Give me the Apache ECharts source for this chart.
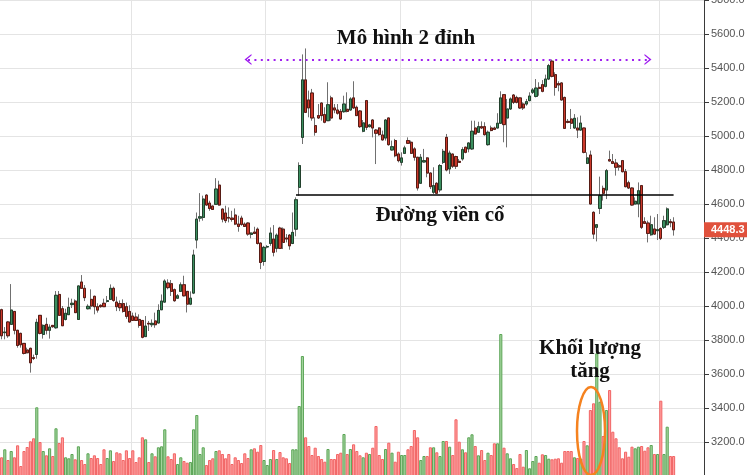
<!DOCTYPE html>
<html><head><meta charset="utf-8">
<script src="https://cdn.jsdelivr.net/npm/echarts@6/dist/echarts.min.js"></script>
<style>html,body{margin:0;padding:0;background:#fff}#c{width:747px;height:475px}</style>
</head><body><div id="c"></div>
<script>
const opens = [
3978,3843,3906,3892,3968,3857,3839,3780,3741,3751,
3696,3715,3945,3833,3892,3857,3886,3872,4068,3984,
3921,3949,4008,4029,3921,4141,4104,3984,4039,4057,
3996,4004,4016,4027,4039,4104,4023,4014,4014,3996,
3968,3941,3935,3921,3915,3820,3898,3890,3912,3900,
3978,4023,4135,4131,4096,4046,4086,4125,4086,4011,
4076,4388,4517,4521,4652,4605,4588,4598,4711,4570,
4547,4521,4517,4535,4482,4517,4482,4488,4421,4435,
4452,4370,4262,4347,4368,4394,4339,4458,4452,4400,
4417,4368,4452,4698,4992,5330,5212,5253,5061,5120,
5194,5126,5090,5224,5165,5153,5145,5143,5157,5153,
5224,5169,5147,5028,5208,5055,5094,5035,5047,5006,
4988,5106,4918,4973,4894,4845,4898,4973,4963,4924,
4875,4722,4847,4871,4782,4669,4722,4683,4845,4992,
4806,4894,4879,4851,4865,4934,4924,4924,5047,5022,
5055,5055,4949,5047,5047,5047,5075,5243,5106,5159,
5241,5227,5224,5188,5188,5208,5257,5233,5286,5302,
5292,5335,5440,5361,5308,5312,5227,5086,5100,5047,
5047,5035,5047,4839,4888,4551,4463,4574,4692,4682,
4861,4849,4841,4825,4855,4790,4725,4694,4600,4600,
4708,4496,4488,4419,4453,4443,4455,4463,4478,4496,
4494];
const highs = [
3984,3876,3912,4129,3970,3860,3843,3782,3755,3755,
3714,3925,3947,3892,3931,3892,3888,4088,4088,4000,
3984,4049,4043,4039,4120,4182,4123,4010,4098,4061,
4016,4010,4043,4059,4127,4114,4055,4033,4039,4020,
4004,3961,3961,3951,3917,3941,3912,3921,3961,4010,
4068,4157,4157,4153,4103,4070,4139,4178,4088,4086,
4331,4550,4664,4649,4658,4619,4590,4752,4737,4574,
4590,4580,4560,4574,4531,4531,4492,4492,4433,4466,
4462,4374,4354,4358,4462,4476,4427,4466,4462,4423,
4423,4550,4639,4845,5480,5515,5267,5277,5110,5188,
5198,5169,5316,5237,5188,5188,5159,5237,5257,5228,
5322,5179,5153,5094,5212,5071,5100,5041,5051,5032,
5100,5108,4973,4983,4904,4904,4943,4992,4973,4934,
4877,4894,4924,4875,4786,4816,4728,4835,4924,5012,
4914,4896,4884,4865,4934,4937,4963,5090,5090,5084,
5086,5081,5032,5061,5055,5134,5263,5247,5218,5227,
5247,5237,5227,5198,5218,5257,5282,5335,5316,5329,
5361,5424,5450,5375,5322,5316,5231,5100,5159,5129,
5110,5120,5049,4904,4914,4557,4482,4761,4708,4806,
4914,4894,4865,4835,4859,4806,4737,4698,4639,4727,
4712,4522,4502,4531,4522,4541,4463,4531,4580,4512,
4522];
const lows = [
3804,3804,3813,3888,3833,3755,3755,3715,3721,3608,
3682,3690,3833,3808,3833,3808,3872,3866,3941,3882,
3915,3947,3988,3959,3919,4102,4029,3980,3980,3951,
3961,3990,3994,4020,4037,4025,3970,3970,3961,3925,
3902,3912,3912,3872,3810,3818,3853,3876,3872,3898,
3976,4020,4098,4059,4025,4041,4084,4056,3962,4005,
4070,4339,4496,4502,4590,4560,4566,4596,4590,4492,
4488,4492,4496,4476,4437,4472,4466,4413,4398,4423,
4362,4217,4237,4339,4354,4292,4316,4335,4335,4374,
4331,4364,4410,4649,4953,5135,5110,5090,5002,5100,
5090,5075,5088,5090,5134,5126,5094,5137,5139,5149,
5159,5118,5047,5022,5035,5051,4992,4835,5002,4973,
4973,4943,4914,4875,4845,4826,4894,4953,4894,4855,
4679,4718,4845,4757,4688,4659,4659,4669,4835,4792,
4777,4812,4806,4843,4855,4898,4904,4918,5008,5020,
5041,5002,4943,5028,5035,5045,5071,4963,4933,5153,
5188,5192,5159,5153,5178,5204,5247,5227,5237,5257,
5286,5329,5345,5237,5263,5208,5041,5075,5041,5041,
4988,5031,4898,4835,4598,4394,4380,4541,4620,4629,
4851,4835,4767,4796,4786,4698,4688,4590,4596,4522,
4453,4482,4374,4413,4419,4388,4388,4453,4473,4463,
4414];
const closes = [
3825,3847,3825,3976,3857,3768,3772,3721,3725,3666,
3692,3904,3839,3886,3857,3876,3878,4063,3945,3884,
3957,3992,4016,3961,4118,4104,4049,3998,4000,3996,
3976,3996,3996,4031,4104,4033,3996,3990,3968,3939,
3906,3915,3915,3886,3816,3882,3894,3898,3890,3974,
4029,4147,4108,4086,4031,4060,4125,4060,4011,4046,
4300,4511,4525,4629,4594,4574,4568,4688,4594,4511,
4502,4517,4509,4482,4468,4480,4468,4423,4429,4427,
4368,4256,4345,4350,4429,4316,4417,4339,4374,4394,
4354,4433,4625,4826,5330,5139,5165,5106,5022,5106,
5120,5081,5184,5106,5153,5134,5100,5188,5145,5218,
5165,5120,5055,5077,5051,5065,5047,5016,5008,4977,
5094,4949,4937,4884,4855,4871,4930,4957,4898,4875,
4694,4875,4855,4782,4702,4708,4663,4826,4910,4800,
4900,4822,4822,4845,4920,4904,4959,5028,5012,5055,
5047,5008,5022,5032,5039,5075,5224,5067,5159,5218,
5198,5198,5165,5165,5202,5235,5271,5282,5280,5263,
5335,5414,5351,5286,5300,5212,5045,5080,5075,5104,
5035,5076,4904,4871,4600,4423,4478,4649,4663,4796,
4853,4839,4816,4818,4790,4702,4694,4594,4616,4678,
4463,4486,4427,4478,4423,4449,4398,4502,4571,4490,
4448.3];
const volumes = [
187,267,160,250,187,307,100,250,290,347,
377,687,340,250,207,277,200,477,330,387,
187,177,220,167,297,160,120,227,180,207,
180,120,267,180,257,150,237,227,160,257,
180,257,140,187,387,367,140,227,197,287,
297,467,197,170,227,120,187,150,133,140,
467,610,220,287,110,160,177,250,257,220,
177,220,120,187,160,130,227,180,267,277,
243,310,160,110,170,260,170,240,187,177,
130,267,267,700,1200,387,300,210,283,200,
170,143,270,170,170,220,233,420,220,270,
317,250,207,187,233,220,283,500,210,170,
270,333,233,143,243,210,210,267,300,460,
387,160,200,200,287,287,237,200,350,350,
293,210,567,343,267,237,387,417,300,207,
260,160,233,210,327,327,1420,283,227,177,
120,80,220,93,260,77,150,200,133,217,
210,173,167,173,177,133,250,250,250,187,
180,173,350,307,660,727,1227,743,400,660,
860,443,377,287,177,243,193,293,277,293,
300,253,287,310,220,220,753,220,493,200,
200];
const emptySlots = 9;
const monthStarts = [41, 83, 125, 166, 206];
const priceMin = 3000, priceMax = 5800, priceStep = 200;
const volumeAxisMax = 4760;
const necklineLevel = 4654, necklineFrom = 92, necklineTo = 210;
const topsLevel = 5450, topsFrom = 77, topsTo = 202;

const N = opens.length;
const categories = Array.from({length: N + emptySlots}, (_, i) => 'D' + (i + 1));
const candleData = opens.map((o, i) => [o, closes[i], lows[i], highs[i]]);
const bodyData = opens.map((o, i) => [o, closes[i], Math.min(o, closes[i]), Math.max(o, closes[i])]);
const volUp = {color: '#a6d6a0', borderColor: '#5aa455', borderWidth: 1};
const volDown = {color: '#ffa0a0', borderColor: '#f26464', borderWidth: 1};
const volumeData = volumes.map((v, i) => ({value: v, itemStyle: closes[i] >= opens[i] ? volUp : volDown}));
const upFill = '#3a8f5f', downFill = '#cc392b';
const chevron = 'path://M0,8 L6,0 L12,8 L10.4,8 L6,2.6 L1.6,8 Z';
const serif = '"Liberation Serif", "Times New Roman", serif';

const chart = echarts.init(document.getElementById('c'), null, {renderer: 'canvas'});
chart.setOption({
  animation: false,
  backgroundColor: '#fff',
  grid: {left: 0, right: 43, top: 0, height: 476, containLabel: false, outerBoundsMode: 'none'},
  xAxis: {
    type: 'category', data: categories, boundaryGap: true,
    axisLine: {show: false}, axisTick: {show: false}, axisLabel: {show: false},
    splitLine: {show: true, interval: (idx) => monthStarts.includes(idx), lineStyle: {color: '#e4e4e4', width: 1}}
  },
  yAxis: [{
    type: 'value', position: 'right', min: priceMin, max: priceMax, interval: priceStep, scale: false,
    axisLine: {show: true, lineStyle: {color: '#3a3a3a', width: 1}},
    axisTick: {show: true, length: 5, lineStyle: {color: '#3a3a3a'}},
    axisLabel: {show: true, margin: 7, color: '#555', fontSize: 11, fontFamily: '"Liberation Sans", Arial, sans-serif',
      formatter: v => v.toFixed(1), showMinLabel: false},
    splitLine: {show: true, lineStyle: {color: '#e4e4e4', width: 1}}
  }, {
    type: 'value', min: 0, max: volumeAxisMax, show: false,
    axisLine: {show: false}, splitLine: {show: false}
  }],
  series: [{
    type: 'bar', name: 'volume', xAxisIndex: 0, yAxisIndex: 1, data: volumeData,
    barWidth: '97%', z: 1
  }, {
    type: 'candlestick', name: 'wicks', data: candleData, barWidth: 2.8, z: 2,
    itemStyle: {color: upFill, color0: downFill, borderColor: '#707070', borderColor0: '#707070', borderWidth: 1},
    markLine: {
      silent: true, animation: false, symbol: ['none', 'none'],
      label: {show: false},
      data: [
        [{coord: [categories[topsFrom], topsLevel], symbol: chevron, symbolSize: [11, 7],
          lineStyle: {color: '#a01ff0', width: 2, type: [2, 4.4]}},
         {coord: [categories[topsTo], topsLevel], symbol: chevron, symbolSize: [11, 7]}],
        [{coord: [categories[necklineFrom], necklineLevel], lineStyle: {color: '#000', width: 1.5, type: 'solid'}},
         {coord: [categories[necklineTo], necklineLevel]}],
        {yAxis: closes[N - 1], lineStyle: {color: 'rgba(0,0,0,0)', width: 0},
         label: {show: true, position: 'end', distance: 0, formatter: p => Number(p.value).toFixed(1),
           color: '#fff', fontWeight: 'bold', fontSize: 11, fontFamily: '"Liberation Sans", Arial, sans-serif',
           backgroundColor: '#e0513c', padding: [2, 6, 2, 7], lineHeight: 11}}
      ]
    }
  }, {
    type: 'candlestick', name: 'bodies', data: bodyData, barWidth: 2.8, z: 3,
    itemStyle: {color: upFill, color0: downFill, borderColor: '#22402c', borderColor0: '#561b14', borderWidth: 1}
  }],
  graphic: [
    {type: 'text', z: 100, x: 406, y: 39, style: {text: 'Mô hình 2 đỉnh', font: 'bold 21px ' + serif, fill: '#111', textAlign: 'center', textVerticalAlign: 'middle'}},
    {type: 'text', z: 100, x: 440, y: 216, style: {text: 'Đường viền cổ', font: 'bold 21px ' + serif, fill: '#111', textAlign: 'center', textVerticalAlign: 'middle'}},
    {type: 'text', z: 100, x: 590, y: 349, style: {text: 'Khối lượng', font: 'bold 21px ' + serif, fill: '#111', textAlign: 'center', textVerticalAlign: 'middle'}},
    {type: 'text', z: 100, x: 590, y: 372, style: {text: 'tăng', font: 'bold 21px ' + serif, fill: '#111', textAlign: 'center', textVerticalAlign: 'middle'}},
    {type: 'ellipse', z: 100, shape: {cx: 591, cy: 431, rx: 14, ry: 44}, style: {fill: 'none', stroke: '#f5821f', lineWidth: 2.5}}
  ]
});
</script>
</body></html>
